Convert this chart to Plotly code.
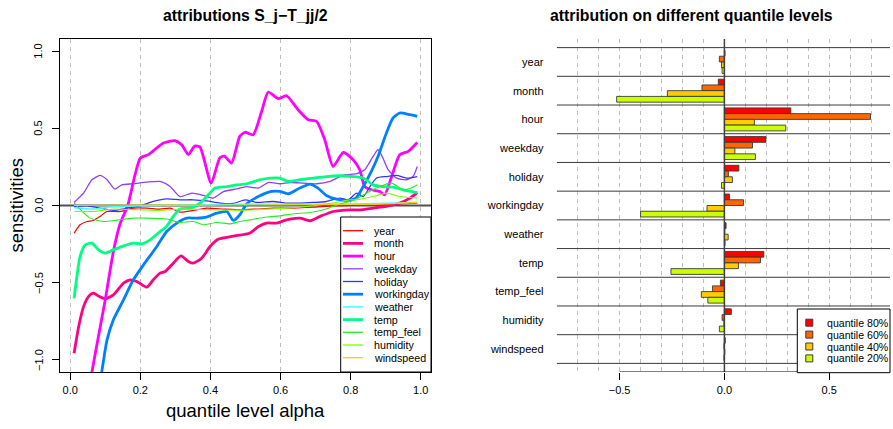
import plotly.graph_objects as go

W, H = 893, 429
FONT = "Liberation Sans, Arial, Helvetica, sans-serif"

# ---------------- left panel: attribution curves over quantile level ----------------
year_a = [0.011, 0.028, 0.048, 0.066, 0.085, 0.105, 0.142, 0.18, 0.218, 0.256, 0.285, 0.313, 0.351,
          0.389, 0.437, 0.484, 0.532, 0.579, 0.636, 0.693, 0.75, 0.807, 0.864, 0.921, 0.99]
year_v = [-0.18, -0.125, -0.104, -0.097, -0.071, -0.039, -0.039, -0.017, -0.017, -0.023, -0.017, -0.043,
          -0.032, -0.017, -0.023, -0.028, -0.023, -0.017, -0.017, -0.011, -0.002, 0.0, 0.005, 0.009, 0.016]

month_a = [0.011, 0.024, 0.038, 0.052, 0.066, 0.083, 0.1, 0.123, 0.152, 0.171, 0.19, 0.218, 0.237, 0.256,
           0.271, 0.294, 0.316, 0.337, 0.351, 0.375, 0.399, 0.423, 0.465, 0.513, 0.537, 0.56, 0.589, 0.617,
           0.655, 0.684, 0.712, 0.75, 0.798, 0.826, 0.864, 0.902, 0.94, 0.969, 0.99]
month_v = [-0.958, -0.786, -0.656, -0.591, -0.569, -0.591, -0.606, -0.58, -0.504, -0.482, -0.493, -0.53,
           -0.482, -0.439, -0.428, -0.374, -0.327, -0.363, -0.374, -0.342, -0.266, -0.218, -0.199, -0.178,
           -0.136, -0.114, -0.114, -0.093, -0.082, -0.099, -0.071, -0.039, -0.028, -0.028, -0.017, -0.006,
           0.016, 0.048, 0.084]

hour_a = [0.01, 0.04, 0.062, 0.082, 0.1, 0.123, 0.142, 0.164, 0.185, 0.2, 0.223, 0.266, 0.299, 0.318,
          0.337, 0.355, 0.37, 0.402, 0.427, 0.44, 0.46, 0.484, 0.499, 0.522, 0.546, 0.565, 0.593, 0.617,
          0.65, 0.679, 0.703, 0.726, 0.75, 0.779, 0.807, 0.826, 0.84, 0.859, 0.883, 0.897, 0.917, 0.94,
          0.964, 0.99]
hour_v = [-1.75, -1.36, -1.078, -0.83, -0.61, -0.30, -0.12, 0.0, 0.2, 0.308, 0.33, 0.405, 0.42, 0.394,
          0.33, 0.385, 0.38, 0.145, 0.31, 0.32, 0.275, 0.45, 0.475, 0.459, 0.61, 0.736, 0.693, 0.712,
          0.621, 0.556, 0.545, 0.427, 0.253, 0.344, 0.297, 0.232, 0.123, 0.102, 0.091, 0.069, 0.188, 0.329,
          0.351, 0.409]

weekday_a = [0.011, 0.038, 0.062, 0.085, 0.105, 0.128, 0.147, 0.18, 0.218, 0.256, 0.285, 0.313, 0.347,
             0.38, 0.408, 0.437, 0.475, 0.503, 0.537, 0.565, 0.598, 0.627, 0.665, 0.703, 0.741, 0.779,
             0.817, 0.84, 0.864, 0.878, 0.892, 0.907, 0.931, 0.959, 0.978, 0.99]
weekday_v = [0.02, 0.08, 0.167, 0.195, 0.167, 0.106, 0.134, 0.141, 0.152, 0.156, 0.123, 0.058, 0.08,
             0.065, 0.048, 0.09, 0.108, 0.123, 0.113, 0.149, 0.141, 0.149, 0.145, 0.141, 0.156, 0.197,
             0.206, 0.232, 0.318, 0.362, 0.308, 0.232, 0.178, 0.167, 0.188, 0.253]

holiday_a = [0.011, 0.048, 0.085, 0.123, 0.161, 0.199, 0.237, 0.275, 0.313, 0.351, 0.389, 0.427, 0.465,
             0.499, 0.532, 0.579, 0.617, 0.655, 0.693, 0.731, 0.769, 0.793, 0.817, 0.836, 0.855, 0.874,
             0.902, 0.931, 0.959, 0.99]
holiday_v = [-0.006, -0.002, -0.017, -0.032, -0.017, -0.002, 0.026, 0.043, 0.037, 0.037, 0.03, 0.016,
             0.013, 0.037, 0.02, 0.026, 0.016, 0.016, 0.02, 0.026, 0.048, 0.037, 0.08, 0.058, 0.123,
             0.178, 0.188, 0.195, 0.178, 0.188]

workingday_a = [0.01, 0.05, 0.09, 0.105, 0.123, 0.152, 0.18, 0.209, 0.247, 0.275, 0.304, 0.332, 0.361,
                0.389, 0.418, 0.447, 0.465, 0.484, 0.503, 0.541, 0.575, 0.598, 0.622, 0.655, 0.684, 0.707,
                0.731, 0.76, 0.788, 0.815, 0.836, 0.859, 0.878, 0.902, 0.921, 0.94, 0.969, 0.99]
workingday_v = [-2.4, -1.65, -1.078, -0.872, -0.742, -0.612, -0.482, -0.385, -0.266, -0.169, -0.114,
                -0.082, -0.082, -0.075, -0.05, -0.039, -0.097, -0.06, 0.01, 0.063, 0.091, 0.091, 0.076,
                0.113, 0.139, 0.113, 0.065, 0.041, 0.033, 0.048, 0.123, 0.221, 0.318, 0.47, 0.568, 0.6,
                0.589, 0.578]

weather_a = [0.011, 0.066, 0.114, 0.2, 0.35, 0.5, 0.7, 0.85, 0.99]
weather_v = [-0.015, -0.023, -0.01, -0.002, 0.004, 0.008, 0.008, 0.012, 0.02]

temp_a = [0.011, 0.019, 0.028, 0.043, 0.062, 0.081, 0.1, 0.123, 0.152, 0.18, 0.204, 0.228, 0.256, 0.275,
          0.294, 0.313, 0.342, 0.37, 0.394, 0.413, 0.447, 0.475, 0.503, 0.541, 0.57, 0.598, 0.622, 0.655,
          0.693, 0.731, 0.769, 0.807, 0.836, 0.864, 0.892, 0.921, 0.95, 0.99]
temp_v = [-0.602, -0.461, -0.331, -0.255, -0.244, -0.288, -0.309, -0.288, -0.262, -0.244, -0.249, -0.223,
          -0.169, -0.136, -0.071, -0.023, -0.017, 0.016, 0.069, 0.113, 0.123, 0.134, 0.14, 0.167, 0.178,
          0.178, 0.156, 0.167, 0.178, 0.188, 0.193, 0.188, 0.178, 0.134, 0.123, 0.119, 0.102, 0.084]

temp_feel_a = [0.011, 0.057, 0.095, 0.133, 0.18, 0.218, 0.275, 0.313, 0.351, 0.38, 0.418, 0.456, 0.484,
               0.513, 0.56, 0.598, 0.636, 0.684, 0.722, 0.75, 0.779, 0.807, 0.845, 0.883, 0.917, 0.95,
               0.973, 0.99]
temp_feel_v = [0.016, -0.082, -0.104, -0.095, -0.082, -0.082, -0.088, -0.11, -0.104, -0.125, -0.11,
               -0.119, -0.104, -0.093, -0.075, -0.067, -0.054, -0.045, -0.028, -0.006, 0.016, 0.032, 0.08,
               0.123, 0.145, 0.102, 0.113, 0.134]

humidity_a = [0.011, 0.066, 0.123, 0.2, 0.256, 0.313, 0.4, 0.5, 0.58, 0.655, 0.75, 0.798, 0.817, 0.864,
              0.902, 0.94, 0.99]
humidity_v = [-0.039, -0.039, -0.023, -0.028, -0.032, -0.023, -0.028, -0.03, -0.022, -0.011, 0.016,
              0.037, 0.037, 0.058, 0.08, 0.058, 0.048]

windspeed_a = [0.011, 0.2, 0.4, 0.6, 0.8, 0.9, 0.99]
windspeed_v = [0.0, 0.003, 0.002, 0.004, 0.006, 0.01, 0.02]

alpha_ticks = [0.0, 0.2, 0.4, 0.6, 0.8, 1.0]
sens_ticks = [-1.0, -0.5, 0.0, 0.5, 1.0]

# name, alpha, values, colour, width
curves = [
    ("year", year_a, year_v, "#FF0000", 1.2),
    ("month", month_a, month_v, "#FF0080", 2.8),
    ("hour", hour_a, hour_v, "#FF00FF", 2.8),
    ("weekday", weekday_a, weekday_v, "#8F3FFF", 1.3),
    ("holiday", holiday_a, holiday_v, "#3535FF", 1.3),
    ("workingday", workingday_a, workingday_v, "#0080FF", 2.8),
    ("weather", weather_a, weather_v, "#40FFFF", 1.5),
    ("temp", temp_a, temp_v, "#00FF80", 2.8),
    ("temp_feel", temp_feel_a, temp_feel_v, "#22EE22", 1.1),
    ("humidity", humidity_a, humidity_v, "#80FF00", 1.1),
    ("windspeed", windspeed_a, windspeed_v, "#F5D000", 1.1),
]

# ---------------- right panel: attributions at four quantile levels ----------------
variables = ["year", "month", "hour", "weekday", "holiday", "workingday", "weather", "temp",
             "temp_feel", "humidity", "windspeed"]
q80 = [0.003, -0.029, 0.317, 0.198, 0.069, 0.024, 0.008, 0.188, -0.019, 0.033, 0.004]
q60 = [-0.024, -0.107, 0.697, 0.134, 0.019, 0.091, 0.002, 0.172, -0.057, -0.011, -0.002]
q40 = [-0.014, -0.272, 0.143, 0.050, 0.038, -0.083, 0.018, 0.067, -0.110, -0.002, 0.002]
q20 = [-0.011, -0.514, 0.293, 0.148, -0.014, -0.400, 0.003, -0.255, -0.079, -0.024, -0.002]
quantile_labels = ["quantile 80%", "quantile 60%", "quantile 40%", "quantile 20%"]
quantile_colors = ["#FF0000", "#FF6600", "#FFCC00", "#CCFF00"]
attr_ticks = [-0.5, 0.0, 0.5]


def px(x):
    return x / W


def py(y):
    return 1 - y / H


fig = go.Figure()

for name, a, v, col, wd in curves:
    fig.add_trace(go.Scatter(x=a, y=v, mode="lines", name=name,
                             line=dict(color=col, width=wd, shape="spline", smoothing=0.6),
                             xaxis="x", yaxis="y", showlegend=False))

positions = list(range(len(variables)))
for vals, lab, col in zip([q80, q60, q40, q20], quantile_labels, quantile_colors):
    fig.add_trace(go.Bar(x=vals, y=positions, orientation="h", name=lab,
                         marker=dict(color=col, line=dict(color="#3a3a3a", width=0.9)),
                         xaxis="x2", yaxis="y2", showlegend=False))

y_dom = [py(372), py(39)]
fig.update_layout(
    width=W, height=H, margin=dict(l=0, r=0, t=0, b=0),
    paper_bgcolor="white", plot_bgcolor="white",
    font=dict(family=FONT, size=11, color="black"),
    barmode="group", bargap=0.2, bargroupgap=0.0,
    xaxis=dict(domain=[px(60), px(431)], range=[-0.0292, 1.0292], tickvals=alpha_ticks,
               tickformat=".1f", ticks="outside", ticklen=7, tickcolor="black",
               showline=True, mirror=True, linecolor="black", linewidth=1,
               showgrid=True, gridcolor="#BEBEBE", griddash="4px,4px", gridwidth=1,
               zeroline=False, tickfont=dict(size=11), ticklabelstandoff=1),
    yaxis=dict(domain=y_dom, range=[-1.08, 1.08], tickvals=sens_ticks, showticklabels=False,
               ticks="outside", ticklen=7, tickcolor="black",
               showline=True, mirror=True, linecolor="black", linewidth=1,
               showgrid=False, zeroline=False),
    xaxis2=dict(domain=[px(556.7), px(890)], range=[-0.8, 0.79], tickvals=attr_ticks,
                tickformat=".1f", ticks="outside", ticklen=7, tickcolor="black",
                showline=False, showgrid=True, gridcolor="#BEBEBE", griddash="4px,4px",
                minor=dict(dtick=0.1, tick0=0, showgrid=True, gridcolor="#BEBEBE",
                           griddash="4px,4px", ticks=""),
                zeroline=False, tickfont=dict(size=11), anchor="y2", ticklabelstandoff=1),
    yaxis2=dict(domain=y_dom, range=[10.8, -0.8], tickvals=positions, ticktext=variables,
                ticks="outside", ticklen=10, tickcolor="rgba(0,0,0,0)", showline=False,
                showgrid=False, zeroline=False, tickfont=dict(size=11), anchor="x2"),
)

shapes = []
# horizontal reference line at zero (left)
shapes.append(dict(type="line", xref="x", yref="y", x0=-0.0292, x1=1.0292, y0=0, y1=0,
                   line=dict(color="#505050", width=2), layer="below"))
# group separators (right)
for k in range(len(variables) + 1):
    shapes.append(dict(type="line", xref="x2", yref="y2", x0=-0.8, x1=0.79, y0=k - 0.5, y1=k - 0.5,
                       line=dict(color="#3a3a3a", width=1), layer="above"))
# vertical reference line at zero (right)
shapes.append(dict(type="line", xref="x2", yref="y2", x0=0, x1=0, y0=-0.8, y1=10.8,
                   line=dict(color="#404040", width=1.5), layer="above"))
# bottom axis line (right)
shapes.append(dict(type="line", xref="x2", yref="y2", x0=-0.5, x1=0.79, y0=10.8, y1=10.8,
                   line=dict(color="black", width=1), layer="above"))

annotations = []

# rotated tick labels of the sensitivity axis, placed on the axis scale
for t in sens_ticks:
    annotations.append(dict(xref="paper", yref="y", x=px(38.3), y=t,
                            text=f"{t:.1f}".replace("-", "\u2212"), textangle=-90,
                            showarrow=False, xanchor="center", yanchor="middle",
                            font=dict(size=11, family=FONT)))

# legend of the curves
shapes.append(dict(type="rect", xref="paper", yref="paper", x0=px(340.7), x1=px(431), y0=py(372),
                   y1=py(217), fillcolor="white", line=dict(color="black", width=1), layer="above"))
for i, (name, a, v, col, wd) in enumerate(curves):
    yy = 230.7 + 12.7 * i
    shapes.append(dict(type="line", xref="paper", yref="paper", x0=px(343), x1=px(363), y0=py(yy),
                       y1=py(yy), line=dict(color=col, width=max(wd, 1.3)), layer="above"))
    annotations.append(dict(xref="paper", yref="paper", x=px(372), y=py(yy), text=name,
                            showarrow=False, xanchor="left", yanchor="middle",
                            font=dict(size=10.7, family=FONT)))

# legend of the quantile levels
shapes.append(dict(type="rect", xref="paper", yref="paper", x0=px(797.3), x1=px(890), y0=py(372.7),
                   y1=py(309), fillcolor="white", line=dict(color="black", width=1), layer="above"))
for i, (lab, col) in enumerate(zip(quantile_labels, quantile_colors)):
    yy = 322.7 + 11.9 * i
    shapes.append(dict(type="rect", xref="paper", yref="paper", x0=px(805.8), x1=px(812.8),
                       y0=py(yy + 3.5), y1=py(yy - 3.5), fillcolor=col,
                       line=dict(color="#3a3a3a", width=1), layer="above"))
    annotations.append(dict(xref="paper", yref="paper", x=px(825), y=py(yy), text=lab,
                            showarrow=False, xanchor="left", yanchor="middle",
                            font=dict(size=10.6, family=FONT)))

# titles
annotations += [
    dict(xref="paper", yref="paper", x=px(245.5), y=py(16), text="<b>attributions S_j\u2212T_jj/2</b>",
         showarrow=False, xanchor="center", yanchor="middle", font=dict(size=15.8, family=FONT)),
    dict(xref="paper", yref="paper", x=px(691), y=py(16),
         text="<b>attribution on different quantile levels</b>",
         showarrow=False, xanchor="center", yanchor="middle", font=dict(size=15.8, family=FONT)),
    dict(xref="paper", yref="paper", x=px(245.5), y=py(410), text="quantile level alpha",
         showarrow=False, xanchor="center", yanchor="middle", font=dict(size=18.5, family=FONT)),
    dict(xref="paper", yref="paper", x=px(16), y=py(205.5), text="sensitivities", textangle=-90,
         showarrow=False, xanchor="center", yanchor="middle", font=dict(size=18.5, family=FONT)),
]

fig.update_layout(shapes=shapes, annotations=annotations)
fig.write_html("out.html")
